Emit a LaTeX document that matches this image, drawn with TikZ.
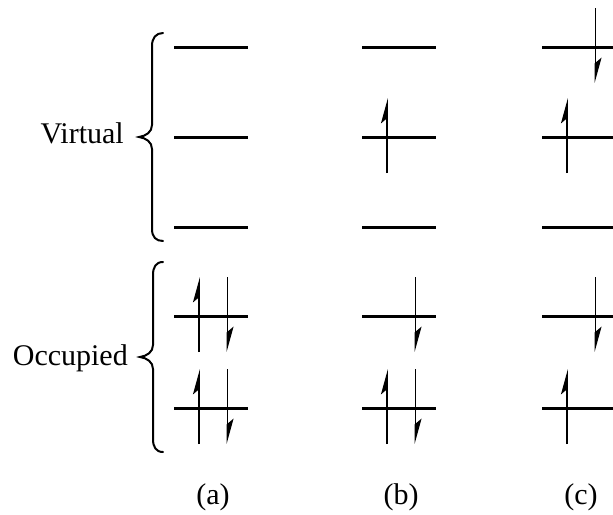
\documentclass[tikz,border=0pt]{standalone}
\usepackage{fontspec}
\setmainfont{Liberation Serif}
\usetikzlibrary{arrows.meta,calc}
\begin{document}
\begin{tikzpicture}[x=1pt,y=-1pt,
  lvl/.style={line width=3pt},
  spin/.style={line width=1.8pt,-{Stealth[harpoon,length=22pt,width=12pt,inset=5pt]}},
  bracepath/.style={line width=2pt,line cap=round},
  lab/.style={font=\fontsize{30}{35}\selectfont, inner sep=0pt}]
\useasboundingbox (0,0) rectangle (613,514);
\clip (0,0) rectangle (613,514);
% levels and column labels
\foreach \cx/\nm in {211/a,399/b,579/c}{
  \foreach \ly/\k in {47/1,137/2,227/3,316/4,408/5}{
    \coordinate (L\nm\k) at (\cx,\ly);
    \draw[lvl] ($(L\nm\k)+(-37,0)$) -- ($(L\nm\k)+(37,0)$);
  }
  \node[lab, anchor=base] (cap\nm) at (\cx+2,504) {(\nm)};
}
% up spins (left of centre), down spins (right of centre)
\foreach \lv in {a4,a5,b2,b5,c2,c5}{
  \coordinate (ub\lv) at ($(L\lv)+(-12,36)$);
  \coordinate (ut\lv) at ($(L\lv)+(-12,-39)$);
  \draw[spin] (ub\lv) -- (ut\lv);
}
\foreach \lv in {a4,a5,b4,b5,c1,c4}{
  \coordinate (dt\lv) at ($(L\lv)+(16.5,-39)$);
  \coordinate (db\lv) at ($(L\lv)+(16.5,36)$);
  \draw[spin] (dt\lv) -- (db\lv);
}
% braces
\draw[bracepath] (163,33) .. controls (156,33) and (152,38) .. (152,46) -- (152,125)
  .. controls (152,132) and (146,136) .. (139,137)
  .. controls (146,138) and (152,142) .. (152,149) -- (152,229)
  .. controls (152,237) and (156,241) .. (163,241);
\draw[bracepath] (163,262) .. controls (156,262) and (153,267) .. (153,275) -- (153,345)
  .. controls (153,352) and (147,356) .. (140,357)
  .. controls (147,358) and (153,362) .. (153,369) -- (153,439)
  .. controls (153,447) and (156,452) .. (163,452);
% side labels
\node[lab, anchor=base east] (virt) at (124,143) {Virtual};
\node[lab, anchor=base east] (occ) at (128,365) {Occupied};
\end{tikzpicture}
\end{document}
